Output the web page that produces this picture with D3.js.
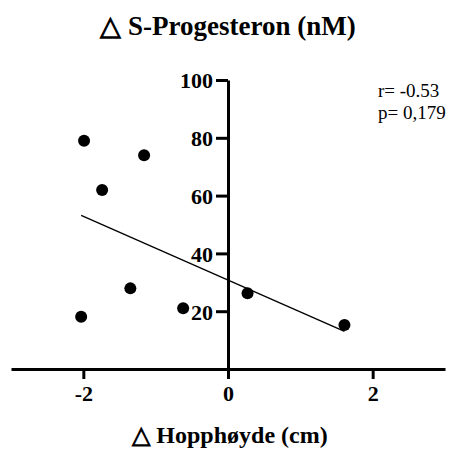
<!DOCTYPE html>
<html>
<head>
<meta charset="utf-8">
<script src="https://cdn.jsdelivr.net/npm/d3@7"></script>
<style>
  body { margin: 0; background: #fff; }
</style>
</head>
<body>
<svg width="465" height="450"></svg>
<script>
// data
var hoppX = [-1.99, -1.16, -1.74, -1.35, -2.03, -0.62, 0.27, 1.61];
var progY = [79.0, 74.0, 61.9, 27.9, 18.1, 21.0, 26.2, 15.2];
var xTicks = [-2, 0, 2];
var yTicks = [20, 40, 60, 80, 100];
var statLines = ["r= -0.53", "p= 0,179"];

var serif = "Liberation Serif";

var svg = d3.select("svg");

var x = d3.scaleLinear().domain([-3, 3]).range([11, 445]),
  y = d3.scaleLinear().domain([0, 100]).range([369, 80]);

svg.append("text")
  .attr("x", 228)
  .attr("y", 35)
  .attr("text-anchor", "middle")
  .style("font-family", serif)
  .style("font-weight", "bold")
  .style("font-size", "27px")
  .text("\u25B3 S-Progesteron (nM)");

svg.append("text")
  .attr("x", 230)
  .attr("y", 443)
  .attr("text-anchor", "middle")
  .style("font-family", serif)
  .style("font-weight", "bold")
  .style("font-size", "24px")
  .text("\u25B3 Hopphøyde (cm)");

var fmt = function (d) { return String(d); };

// x axis at y = 0
var xAxis = svg.append("g")
  .attr("transform", "translate(0," + y(0) + ")")
  .call(d3.axisBottom(x).tickValues(xTicks).tickFormat(fmt).tickSize(10).tickSizeOuter(0).tickPadding(6));

// y axis at x = 0
var yAxis = svg.append("g")
  .attr("transform", "translate(" + x(0) + ",0)")
  .call(d3.axisLeft(y).tickValues(yTicks).tickFormat(fmt).tickSize(12).tickSizeOuter(0).tickPadding(3));

svg.selectAll(".domain, .tick line")
  .attr("stroke", "#000")
  .attr("stroke-width", 3);
svg.selectAll(".tick text")
  .attr("fill", "#000")
  .style("font-family", serif)
  .style("font-weight", "bold")
  .style("font-size", "22px");
yAxis.selectAll(".tick text").attr("dy", "0.36em");

// regression line
var pts = hoppX.map(function (d, i) { return [d, progY[i]]; });
var mx = d3.mean(hoppX), my = d3.mean(progY);
var sxy = d3.sum(pts, function (p) { return (p[0] - mx) * (p[1] - my); });
var sxx = d3.sum(hoppX, function (d) { return (d - mx) * (d - mx); });
var slope = sxy / sxx, icpt = my - slope * mx;
var ext = d3.extent(hoppX);

svg.append("line")
  .attr("x1", x(ext[0]))
  .attr("y1", y(icpt + slope * ext[0]))
  .attr("x2", x(ext[1]))
  .attr("y2", y(icpt + slope * ext[1]))
  .attr("stroke", "#000")
  .attr("stroke-width", 1.3);

svg.selectAll(".dot")
  .data(pts)
  .enter()
  .append("circle")
  .attr("class", "dot")
  .attr("cx", function (d) { return x(d[0]); })
  .attr("cy", function (d) { return y(d[1]); })
  .attr("r", 6)
  .attr("fill", "#000");

svg.selectAll(".stat")
  .data(statLines)
  .enter()
  .append("text")
  .attr("class", "stat")
  .attr("x", 378)
  .attr("y", function (d, i) { return 97 + i * 22; })
  .style("font-family", serif)
  .style("font-size", "19px")
  .text(function (d) { return d; });
</script>
</body>
</html>
